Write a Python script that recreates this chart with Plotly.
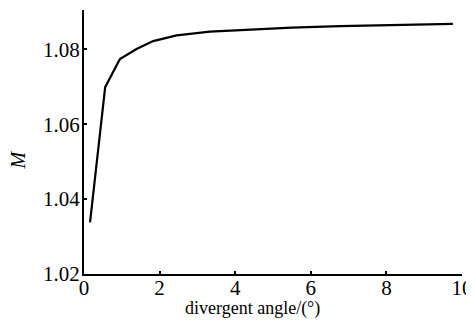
import plotly.graph_objects as go

angle = [0.16, 0.56, 0.95, 1.39, 1.83, 2.45, 3.33, 4.39, 5.5, 6.77, 8.0, 9.76]
M = [1.0338, 1.0699, 1.0774, 1.0801, 1.0822, 1.0837, 1.0847, 1.0853, 1.0858, 1.0862, 1.0865, 1.0868]

x_ticks = [0, 2, 4, 6, 8, 10]
y_ticks = [1.02, 1.04, 1.06, 1.08]
y_tick_text = ["1.02", "1.04", "1.06", "1.08"]

font = "Liberation Serif, Times New Roman, serif"

fig = go.Figure()
fig.add_trace(go.Scatter(x=angle, y=M, mode="lines",
                         line=dict(color="black", width=2.2), showlegend=False))

fig.update_layout(
    template="none",
    width=474, height=320,
    margin=dict(l=76, r=20, t=2, b=54, autoexpand=False),
    paper_bgcolor="white", plot_bgcolor="white",
    font=dict(family=font, size=20, color="black"),
    xaxis=dict(range=[0, 10], tickvals=x_ticks, showgrid=False, zeroline=False,
               showline=True, linecolor="black", linewidth=2, automargin=False,
               ticks="inside", ticklen=3, tickcolor="black", tickwidth=1.5,
               ticklabelstandoff=-6,
               tickfont=dict(family=font, size=21)),
    yaxis=dict(range=[1.02, 1.0905], tickvals=y_ticks, ticktext=y_tick_text,
               showgrid=False, zeroline=False, automargin=False,
               showline=True, linecolor="black", linewidth=2,
               ticks="inside", ticklen=3, tickcolor="black", tickwidth=1.5,
               ticklabelstandoff=-2,
               tickfont=dict(family=font, size=21)),
    annotations=[
        dict(text="divergent angle/(°)", xref="paper", yref="paper",
             x=0.447, y=0, yshift=-34, xanchor="center", yanchor="middle",
             showarrow=False, font=dict(family=font, size=18)),
        dict(text="<i>M</i>", xref="paper", yref="paper",
             x=0, y=0.43, xshift=-66, xanchor="center", yanchor="middle",
             textangle=-90, showarrow=False, font=dict(family=font, size=20)),
    ],
)

fig.write_html("out.html")
